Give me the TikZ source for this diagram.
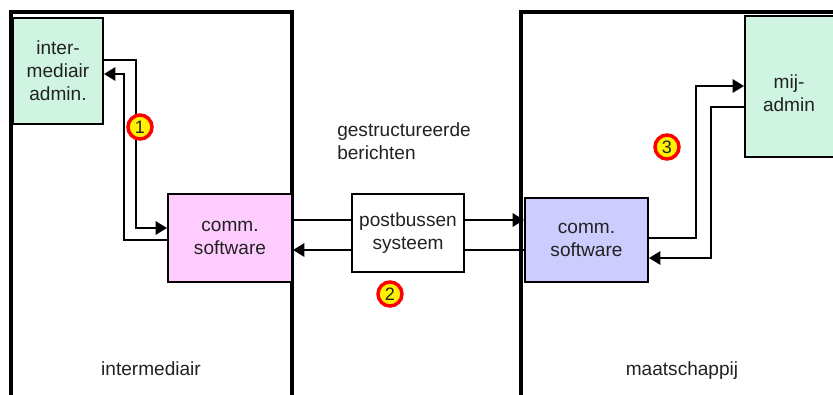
\documentclass[tikz,border=0pt]{standalone}
\usepackage{fontspec}
\setmainfont{Liberation Sans}
\usetikzlibrary{arrows.meta}
\definecolor{mint}{RGB}{208,244,226}
\definecolor{pinkfill}{RGB}{255,204,255}
\definecolor{bluefill}{RGB}{204,204,255}
\definecolor{ink}{RGB}{34,34,34}
\tikzset{
  unitbox/.style={draw=black, line width=1.5pt, text=ink, align=center,
    inner sep=0pt, font=\fontsize{14.3}{17.3}\selectfont},
  bigbox/.style={draw=black, line width=2.4pt},
  conn/.style={draw=black, line width=1.5pt},
  tip/.style={-{Triangle[length=8.5pt,width=10pt]}},
  badge/.style={circle, draw=red, line width=2.6pt, fill=yellow, inner sep=0pt,
    minimum size=18pt, text=ink, font=\fontsize{13.5}{13.5}\selectfont},
  label/.style={text=ink, align=left, inner sep=0pt, font=\fontsize{14.3}{17.3}\selectfont}
}
\begin{document}
\begin{tikzpicture}[x=0.75pt, y=-0.75pt]
  \clip (0,0) rectangle (833,394);
  \fill[white] (0,0) rectangle (833,394);

  % the two organisations
  \draw[bigbox] (11,410) -- (11,12) -- (292,12) -- (292,410);
  \draw[bigbox] (521,410) -- (521,12) -- (850,12);

  % units
  \node[unitbox, fill=mint, minimum width=67.5pt, minimum height=79.5pt]
    (adm) at (58,71) {inter-\\mediair\\admin.};
  \node[unitbox, fill=pinkfill, minimum width=93pt, minimum height=66pt]
    (lcomm) at (230,238) {comm.\\software};
  \node[unitbox, fill=white, minimum width=84pt, minimum height=58.5pt]
    (pb) at (408,233) {postbussen\\systeem};
  \node[unitbox, fill=bluefill, minimum width=92.25pt, minimum height=63pt]
    (rcomm) at (586.5,240) {comm.\\software};
  \node[unitbox, fill=mint, minimum width=75pt, minimum height=105.75pt]
    (mij) at (795,86.5) {};
  \node[label, align=center, anchor=center] (mijt) at (789,93) {mij-\\admin};

  % bend points of the connectors
  \coordinate (a1) at (136,60);
  \coordinate (a2) at (136,228);
  \coordinate (b1) at (124,240);
  \coordinate (b2) at (124,74);
  \coordinate (m1) at (0,220);
  \coordinate (m2) at (0,250);
  \coordinate (c1) at (696,238);
  \coordinate (c2) at (696,86);
  \coordinate (d1) at (711,107);
  \coordinate (d2) at (711,258);

  % intermediair: admin <-> comm. software
  \draw[conn, tip] (adm.east |- a1) -- (a1) -- (a2) -- (lcomm.west |- a2);
  \draw[conn, tip] (lcomm.west |- b1) -- (b1) -- (b2) -- (adm.east |- b2);

  % via postbussen systeem
  \draw[conn] (lcomm.east |- m1) -- (pb.west |- m1);
  \draw[conn, tip] (pb.east |- m1) -- (rcomm.west |- m1);
  \draw[conn] (rcomm.west |- m2) -- (pb.east |- m2);
  \draw[conn, tip] (pb.west |- m2) -- (lcomm.east |- m2);

  % maatschappij: comm. software <-> mij-admin
  \draw[conn, tip] (rcomm.east |- c1) -- (c1) -- (c2) -- (mij.west |- c2);
  \draw[conn, tip] (mij.west |- d1) -- (d1) -- (d2) -- (rcomm.east |- d2);

  % texts
  \node[label, anchor=west] (msg) at (337,141) {gestructureerde\\berichten};
  \node[label, anchor=base] (lorg) at (151,375) {intermediair};
  \node[label, anchor=base] (rorg) at (682,375) {maatschappij};

  % numbered markers
  \node[badge] (n1) at (140,127) {1};
  \node[badge] (n2) at (390,294) {2};
  \node[badge] (n3) at (667,147) {3};
\end{tikzpicture}
\end{document}
